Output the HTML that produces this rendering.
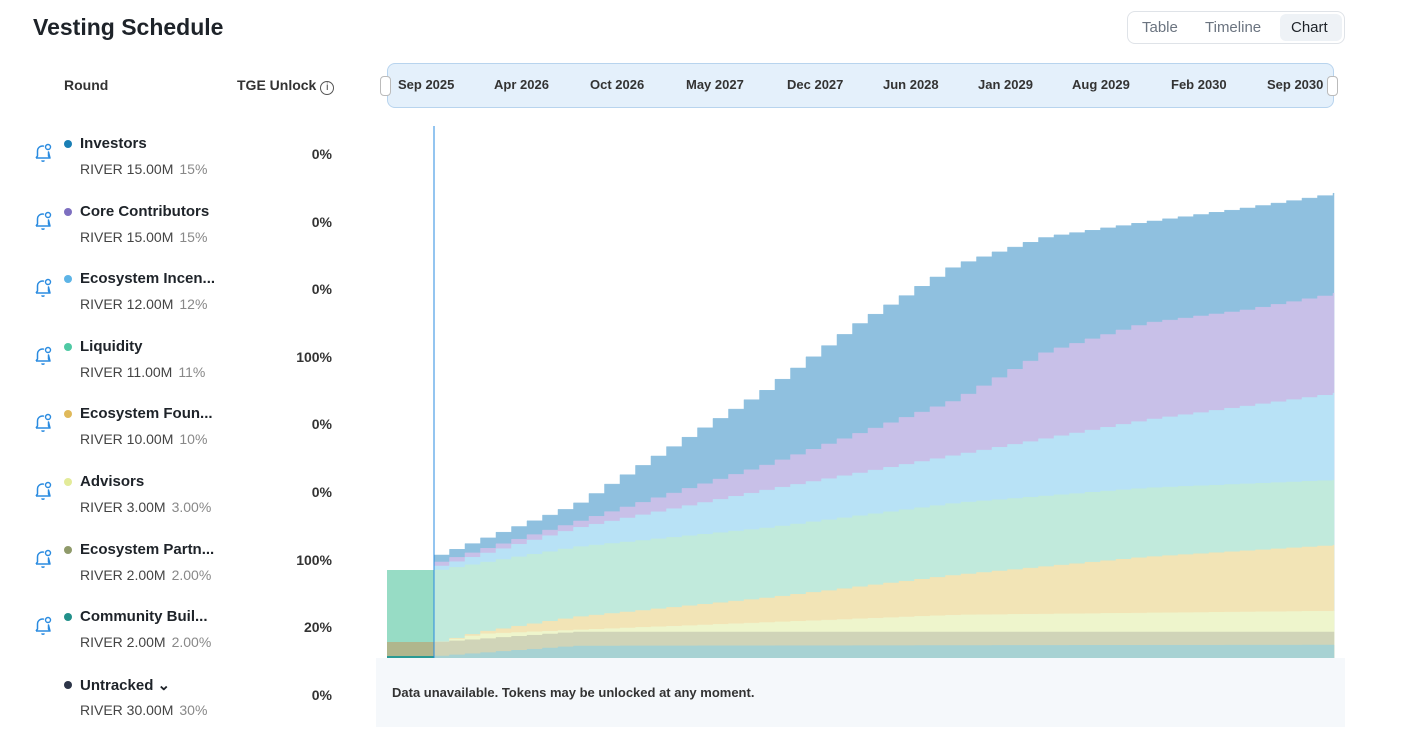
<!DOCTYPE html>
<html><head><meta charset="utf-8"><style>
body{margin:0;width:1427px;height:753px;background:#fff;font-family:"Liberation Sans",sans-serif;color:#1e2329;position:relative;overflow:hidden}
.a{position:absolute}
.title{left:33px;top:14px;font-size:23px;font-weight:bold}
.tog{left:1127px;top:11px;width:216px;height:31px;border:1px solid #dfe3e8;border-radius:8px;font-size:15px;color:#6b7480}
.tog span{position:absolute;top:7px}
.hdr{font-size:14px;font-weight:bold;color:#333}
.name{font-size:15px;font-weight:bold;left:80px}
.amt{font-size:14px;left:80px;color:#444}
.amt i{font-style:normal;color:#888;margin-left:6px}
.dot{width:8px;height:8px;border-radius:50%;left:64px}
.bell{left:33px}
.bar{left:387px;top:63px;width:945px;height:43px;background:#e4f0fb;border:1px solid #b8d4ee;border-radius:8px}
.tick{top:77px;font-size:13px;font-weight:bold;color:#333}
</style></head><body>
<div class="a title">Vesting Schedule</div>
<div class="a tog"><span style="left:14px">Table</span><span style="left:77px">Timeline</span><div class="a" style="left:152px;top:2px;width:62px;height:27px;background:#eef2f6;border-radius:6px"></div><span style="left:163px;color:#1e2329">Chart</span></div>
<div class="a hdr" style="left:64px;top:77px">Round</div>
<div class="a hdr" style="left:237px;top:77px">TGE Unlock <span style="display:inline-block;width:12px;height:12px;border:1px solid #555;border-radius:50%;font-size:10px;text-align:center;line-height:12px;font-weight:normal">i</span></div>
<div id="rows"></div>
<div class="a bar"></div>
<div class="a" style="left:380px;top:76px;width:9px;height:18px;background:#fff;border:1px solid #bbb;border-radius:4px"></div>
<div class="a" style="left:1327px;top:76px;width:9px;height:18px;background:#fff;border:1px solid #bbb;border-radius:4px"></div>
<div id="ticks"></div>
<svg class="a" style="left:0;top:0" width="1427" height="753" id="svg"></svg>
<div class="a" style="left:376px;top:658px;width:969px;height:69px;background:#f5f8fb"></div>
<div class="a" style="left:392px;top:685px;font-size:13px;font-weight:bold;color:#333">Data unavailable. Tokens may be unlocked at any moment.</div>
<script>
var rows=[["Investors","15.00M","15%","0%","#1a7fb5"],["Core Contributors","15.00M","15%","0%","#7d6fc0"],["Ecosystem Incen...","12.00M","12%","0%","#5db4e6"],["Liquidity","11.00M","11%","100%","#4fc9a4"],["Ecosystem Foun...","10.00M","10%","0%","#e0b95a"],["Advisors","3.00M","3.00%","0%","#e3eb99"],["Ecosystem Partn...","2.00M","2.00%","100%","#8f9a6a"],["Community Buil...","2.00M","2.00%","20%","#22908a"],["Untracked ⌄","30.00M","30%","0%","#2d3548"]];
var bell='<svg width="20" height="22" viewBox="0 0 20 22"><path d="M3 16 L4.5 14 V9 A5 5 0 0 1 11 4.2 M15.5 10 V14 L17 16 Z M3 16 H17" fill="none" stroke="#2a8be0" stroke-width="1.5" stroke-linejoin="round"/><circle cx="15" cy="5" r="2.5" fill="none" stroke="#2a8be0" stroke-width="1.4"/><path d="M8.5 18.5 Q10 20 11.5 18.5" fill="none" stroke="#2a8be0" stroke-width="1.4"/></svg>';
var h="";rows.forEach(function(r,i){var y=135+i*67.6;
if(i<8)h+='<div class="a bell" style="top:'+(y+7)+'px">'+bell+'</div>';
h+='<div class="a dot" style="top:'+(y+5)+'px;background:'+r[4]+'"></div><div class="a name" style="top:'+y+'px">'+r[0]+'</div><div class="a amt" style="top:'+(y+26)+'px">RIVER '+r[1]+'<i>'+r[2]+'</i></div><div class="a hdr" style="top:'+(y+11)+'px;left:270px;width:62px;text-align:right">'+r[3]+'</div>';});
document.getElementById("rows").innerHTML=h;
var t=["Sep 2025","Apr 2026","Oct 2026","May 2027","Dec 2027","Jun 2028","Jan 2029","Aug 2029","Feb 2030","Sep 2030"],th="";
var tx=[398,494,590,686,787,883,978,1072,1171,1267];t.forEach(function(s,i){th+='<div class="a tick" style="left:'+tx[i]+'px">'+s+'</div>'});document.getElementById("ticks").innerHTML=th;
var L=[
["#8fc0df",[[434,555],[570,505],[760,390],[850,325],[950,265],[1040,237],[1140,222],[1240,208],[1334,193]]],
["#c8c0e8",[[434,562],[570,522],[760,465],[950,400],[1040,352],[1140,323],[1240,310],[1334,293]]],
["#b8e2f6",[[434,566],[570,528],[760,490],[950,455],[1140,420],[1334,393]]],
["#c1eadc",[[434,570],[570,547],[760,528],[950,503],[1140,488],[1334,480]]],
["#f2e4b6",[[434,642],[475,632],[570,617],[760,598],[950,575],[1140,557],[1334,545]]],
["#eef5cc",[[434,642],[475,634],[570,630],[950,615],[1334,611]]],
["#d0d4b8",[[434,642],[570,632],[1334,632]]],
["#a7d2d3",[[434,656],[570,646],[1334,645]]]];
function f(k,x){for(var i=1;i<k.length;i++){if(x<=k[i][0]){var a=k[i-1],b=k[i];return a[1]+(b[1]-a[1])*(x-a[0])/(b[0]-a[0]);}}return k[k.length-1][1];}
var s="";
s+='<rect x="387" y="570" width="47" height="88" fill="#97dcc5"/><rect x="387" y="642" width="47" height="14" fill="#b0b68d"/><rect x="387" y="656" width="47" height="2" fill="#2a9a94"/>';
L.forEach(function(l){var k=l[1],p="M434,658 ",st=15.5;for(var x=434;x<1334;x+=st){var y=f(k,x);var x2=Math.min(x+st,1334);p+="L"+x+","+y.toFixed(1)+" L"+x2+","+y.toFixed(1)+" ";}
p+="L1334,"+k[k.length-1][1]+" L1334,658 Z";s+='<path d="'+p+'" fill="'+l[0]+'" stroke="'+l[0]+'" stroke-width="0.5"/>';});
s+='<line x1="434" y1="126" x2="434" y2="658" stroke="#2a8be0" stroke-width="1"/>';
document.getElementById("svg").innerHTML=s;
</script>
</body></html>
